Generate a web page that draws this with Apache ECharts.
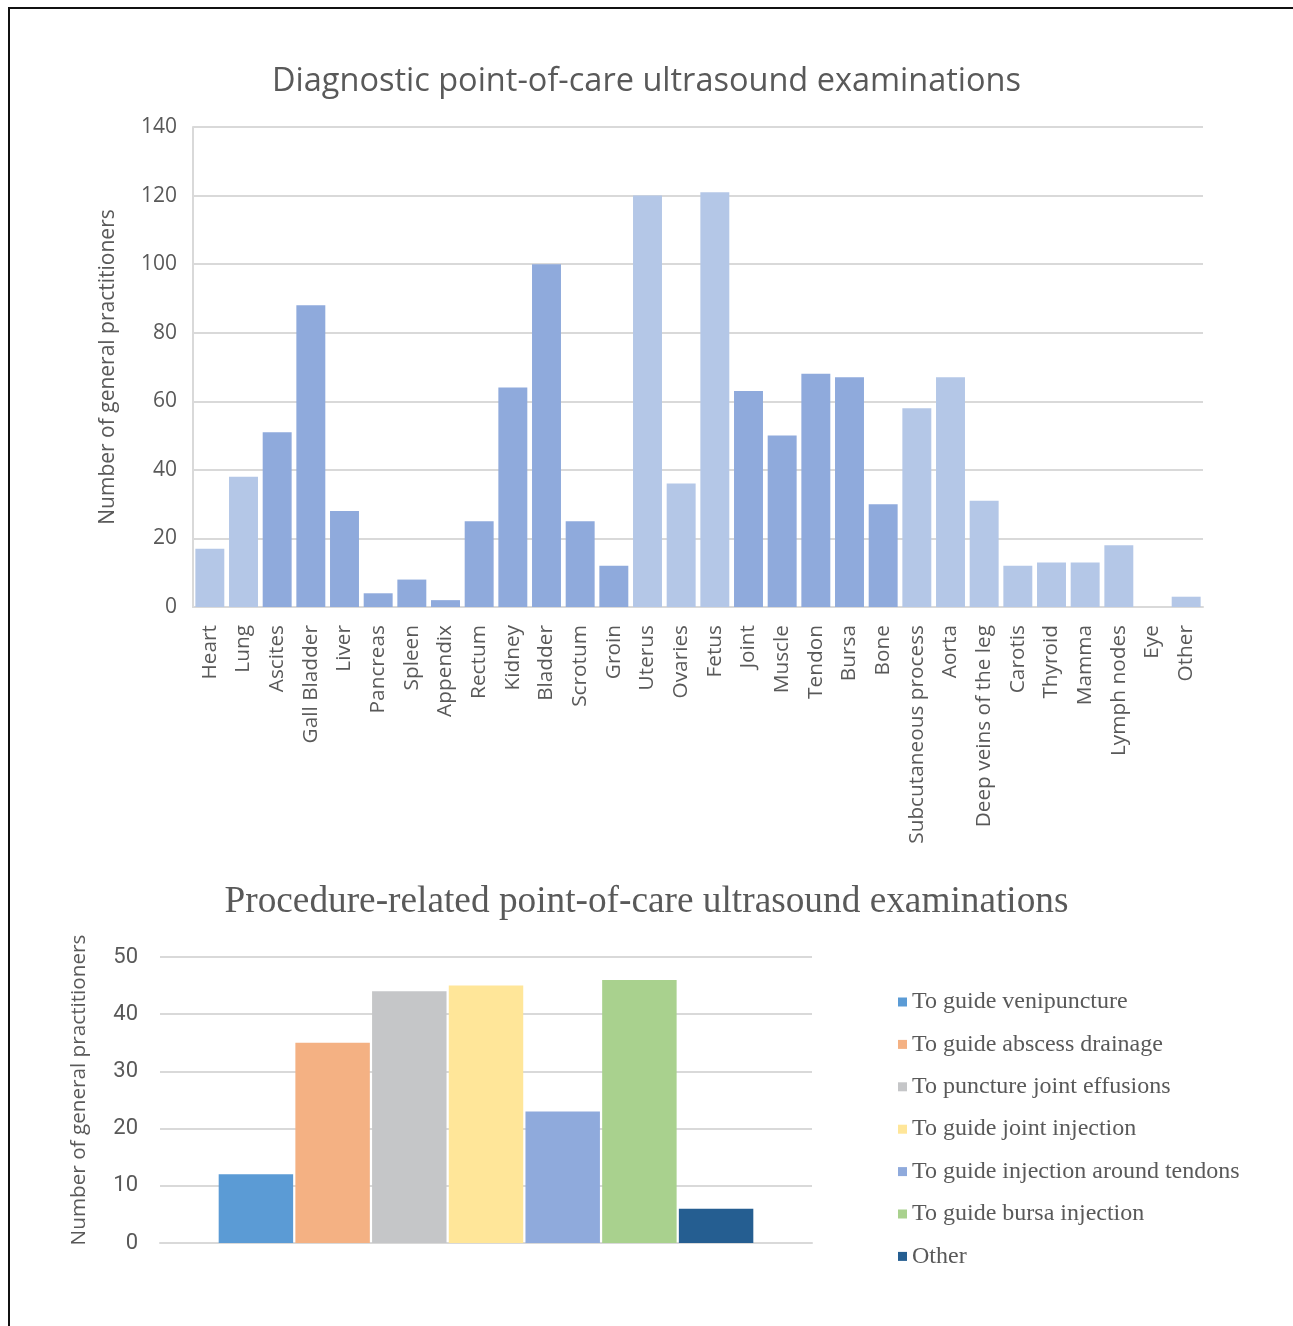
<!DOCTYPE html>
<html>
<head>
<meta charset="utf-8">
<script src="https://cdn.jsdelivr.net/npm/echarts@6/dist/echarts.min.js"></script>
<style>
html,body{margin:0;padding:0;background:#fff;}
#frame{position:absolute;left:8px;top:7px;width:1285px;height:1319px;border-top:2px solid #111;border-left:2px solid #111;box-sizing:border-box;}
#chart{position:absolute;left:0;top:0;width:1293px;height:1326px;}
</style>
</head>
<body>
<div id="frame"></div>
<div id="chart"></div>
<script>
// ---- Data: diagnostic examinations ----
const diagCategories = ['Heart','Lung','Ascites','Gall Bladder','Liver','Pancreas','Spleen','Appendix','Rectum','Kidney','Bladder','Scrotum','Groin','Uterus','Ovaries','Fetus','Joint','Muscle','Tendon','Bursa','Bone','Subcutaneous process','Aorta','Deep veins of the leg','Carotis','Thyroid','Mamma','Lymph nodes','Eye','Other'];
const diagValues = [17,38,51,88,28,4,8,2,25,64,100,25,12,120,36,121,63,50,68,67,30,58,67,31,12,13,13,18,0,3];
const diagGroup = ['other','other','abdomen','abdomen','abdomen','abdomen','abdomen','abdomen','abdomen','abdomen','abdomen','abdomen','abdomen','other','other','other','msk','msk','msk','msk','msk','other','other','other','other','other','other','other','other','other'];
const diagTicks = [0,20,40,60,80,100,120,140];

// ---- Data: procedure-related examinations ----
const procNames = ['To guide venipuncture','To guide abscess drainage','To puncture joint effusions','To guide joint injection','To guide injection around tendons','To guide bursa injection','Other'];
const procValues = [12,35,44,45,23,46,6];
const procTicks = [0,10,20,30,40,50];

const groupColor = {other:'#B4C7E7', abdomen:'#8FAADC', msk:'#8FAADC'};
const procColors = ['#5B9BD5','#F4B183','#C5C6C8','#FFE699','#8FAADC','#A9D18E','#255E91'];

const chart = echarts.init(document.getElementById('chart'));
const sans = '"Open Sans", "DejaVu Sans", sans-serif';
const serif = '"Liberation Serif", "DejaVu Serif", serif';
const textColor = '#595959';
const gridColor = '#d9d9d9';

const procSeries = procNames.map((n,i)=>({
  name: n, type:'bar', xAxisIndex:1, yAxisIndex:1,
  data:[procValues[i]],
  barGap:'3%', barCategoryGap:'18%',
  itemStyle:{color:procColors[i]}
}));

chart.setOption({
  animation:false,
  title:[
    {text:'Diagnostic point-of-care ultrasound examinations', left:'center', top:60,
     textStyle:{fontFamily:sans, fontSize:32.5, fontWeight:'normal', color:textColor}},
    {text:'Procedure-related point-of-care ultrasound examinations', left:'center', top:879,
     textStyle:{fontFamily:serif, fontSize:37.3, fontWeight:'normal', color:textColor}}
  ],
  legend:{
    orient:'vertical', left:893, top:985, itemWidth:9, itemHeight:9, itemGap:18.4,
    icon:'rect',
    data: procNames,
    textStyle:{fontFamily:serif, fontSize:24, color:textColor, lineHeight:24}
  },
  grid:[
    {left:193, right:90, top:127, height:480},
    {left:160, width:652, top:957, height:286}
  ],
  xAxis:[
    {type:'category', gridIndex:0, data:diagCategories,
     axisLine:{lineStyle:{color:gridColor, width:2}}, axisTick:{show:false},
     axisLabel:{rotate:90, interval:0, margin:18, fontFamily:sans, fontSize:20.8, color:textColor}},
    {type:'category', gridIndex:1, data:[''],
     axisLine:{lineStyle:{color:gridColor, width:2}}, axisTick:{show:false}, axisLabel:{show:false}}
  ],
  yAxis:[
    {type:'value', gridIndex:0, min:diagTicks[0], max:diagTicks[diagTicks.length-1], interval:20,
     name:'Number of general practitioners', nameLocation:'middle', nameGap:74,
     nameTextStyle:{fontFamily:sans, fontSize:21, color:textColor},
     axisLine:{show:true, lineStyle:{color:gridColor, width:2}},
     axisLabel:{margin:16, fontFamily:sans, fontSize:21, color:textColor},
     splitLine:{lineStyle:{color:gridColor, width:2}}},
    {type:'value', gridIndex:1, min:procTicks[0], max:procTicks[procTicks.length-1], interval:10,
     name:'Number of general practitioners', nameLocation:'middle', nameGap:70,
     nameTextStyle:{fontFamily:sans, fontSize:20.7, color:textColor, padding:[0,0,0,20]},
     axisLine:{show:false},
     axisLabel:{margin:22, fontFamily:'"Liberation Sans Narrow", "Roboto", sans-serif', fontSize:22, color:textColor},
     splitLine:{lineStyle:{color:gridColor, width:2}}}
  ],
  series:[
    {type:'bar', xAxisIndex:0, yAxisIndex:0, barCategoryGap:'14%',
     data: diagValues.map((v,i)=>({value:v, itemStyle:{color:groupColor[diagGroup[i]]}}))},
    ...procSeries
  ]
});
</script>
</body>
</html>
